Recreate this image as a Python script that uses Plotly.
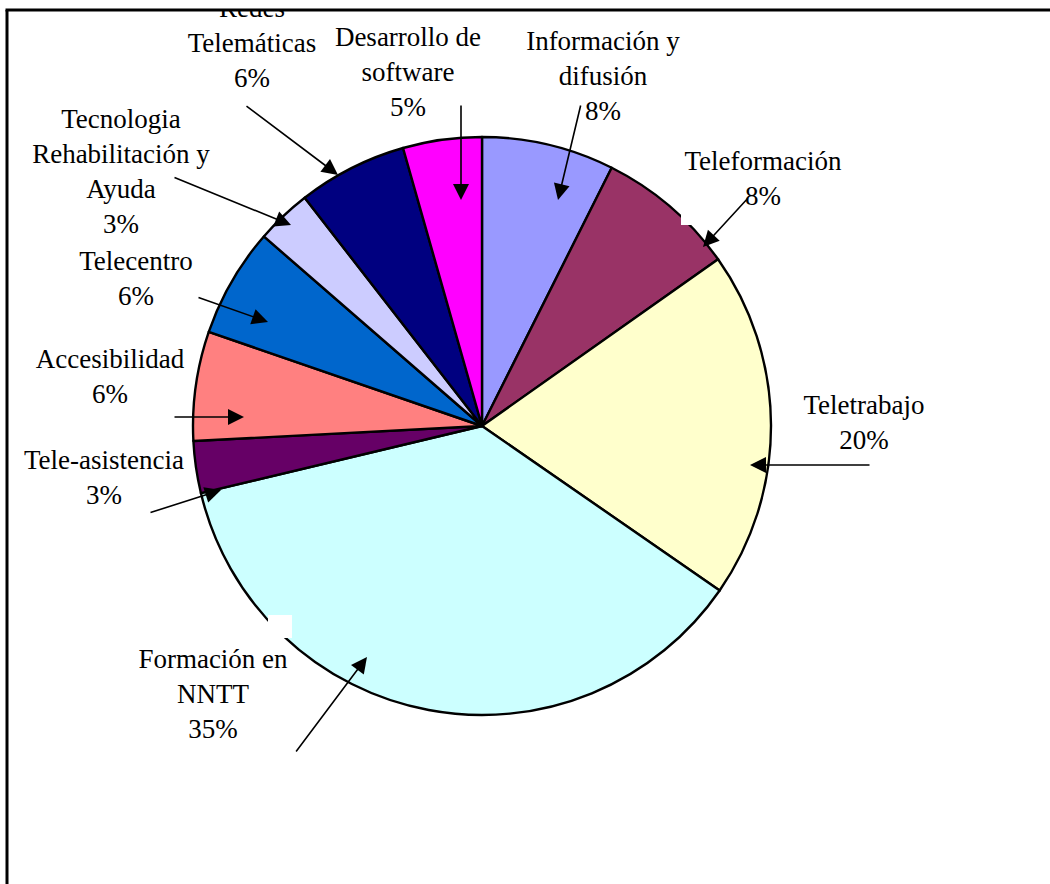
import plotly.graph_objects as go

# ---- data (clockwise from 12 o'clock) ----
categories = ["Información y difusión", "Teleformación", "Teletrabajo", "Formación en NNTT",
              "Tele-asistencia", "Accesibilidad", "Telecentro",
              "Tecnologia Rehabilitación y Ayuda", "Redes Telemáticas", "Desarrollo de software"]
shares = [7.4, 7.8, 19.4, 36.6, 2.9, 6.1, 6.1, 3.1, 6.1, 4.4]
pct_labels = ["8%", "8%", "20%", "35%", "3%", "6%", "6%", "3%", "6%", "5%"]
label_lines = [["Información y", "difusión"], ["Teleformación"], ["Teletrabajo"],
               ["Formación en", "NNTT"], ["Tele-asistencia"], ["Accesibilidad"],
               ["Telecentro"], ["Tecnologia", "Rehabilitación y", "Ayuda"],
               ["Redes", "Telemáticas"], ["Desarrollo de", "software"]]

# ---- styles / layout positions (pixels) ----
colors = ["#9999FF", "#993366", "#FFFFCC", "#CCFFFF", "#660066",
          "#FF8080", "#0066CC", "#CCCCFF", "#000080", "#FF00FF"]
W, H = 1050, 884
label_pos = [(603, 78), (763, 181), (864, 425), (213, 696), (104, 480),
             (110, 379), (136, 281), (121, 174), (252, 45), (408, 74)]
arrow_tail = [(581, 104), (749, 197), (871, 465), (295, 753), (149, 513),
              (173, 417), (197, 297), (173, 177), (245, 105), (461, 104)]
arrow_head = [(558, 200), (703, 247), (750, 465), (367, 657), (221, 490),
              (244, 417), (268, 322), (291, 225), (338, 175), (461, 200)]
cx, cy, r = 482, 426, 289
FONT = "Times New Roman, Liberation Serif, serif"

fig = go.Figure()
fig.add_trace(go.Pie(
    labels=categories, values=shares, sort=False, direction="clockwise", rotation=0,
    marker=dict(colors=colors, line=dict(color="black", width=2.4)),
    textinfo="none", hoverinfo="label+percent", showlegend=False,
    domain=dict(x=[(cx - r) / W, (cx + r) / W], y=[1 - (cy + r) / H, 1 - (cy - r) / H]),
))

texts = ["<br>".join(lines + [p]) for lines, p in zip(label_lines, pct_labels)]
fig.add_trace(go.Scatter(
    x=[p[0] for p in label_pos], y=[p[1] for p in label_pos], text=texts,
    mode="text", textposition="middle center", cliponaxis=True,
    textfont=dict(family=FONT, size=27, color="black"),
    hoverinfo="skip", showlegend=False,
))

annotations = []
for (tx, ty), (hx, hy) in zip(arrow_tail, arrow_head):
    annotations.append(dict(x=hx, y=hy, ax=tx, ay=ty, xref="x", yref="y", axref="x", ayref="y",
                            text="", showarrow=True, arrowhead=2, arrowsize=2.0,
                            arrowwidth=1.6, arrowcolor="black", standoff=0))

top_frac = 1 - 10 / H
shapes = [
    dict(type="rect", xref="x", yref="y", x0=681, x1=693, y0=195, y1=225,
         fillcolor="white", line=dict(width=0), layer="above"),
    dict(type="rect", xref="x", yref="y", x0=268, x1=292, y0=615, y1=638,
         fillcolor="white", line=dict(width=0), layer="above"),
    dict(type="line", xref="paper", yref="paper", x0=5.5 / W, x1=1, y0=top_frac, y1=top_frac,
         line=dict(color="black", width=3)),
    dict(type="line", xref="paper", yref="paper", x0=7 / W, x1=7 / W, y0=0, y1=top_frac,
         line=dict(color="black", width=3)),
]

fig.update_layout(
    width=W, height=H, margin=dict(l=0, r=0, t=0, b=0),
    paper_bgcolor="white", plot_bgcolor="rgba(0,0,0,0)",
    font=dict(family=FONT),
    xaxis=dict(domain=[0, 1], range=[0, W], visible=False, fixedrange=True),
    yaxis=dict(domain=[0, top_frac], range=[H, 10], visible=False, fixedrange=True),
    annotations=annotations, shapes=shapes,
)

fig.write_html("out.html", config={"displayModeBar": False},
               post_script="document.body.style.margin='0';document.body.style.overflow='hidden';")
